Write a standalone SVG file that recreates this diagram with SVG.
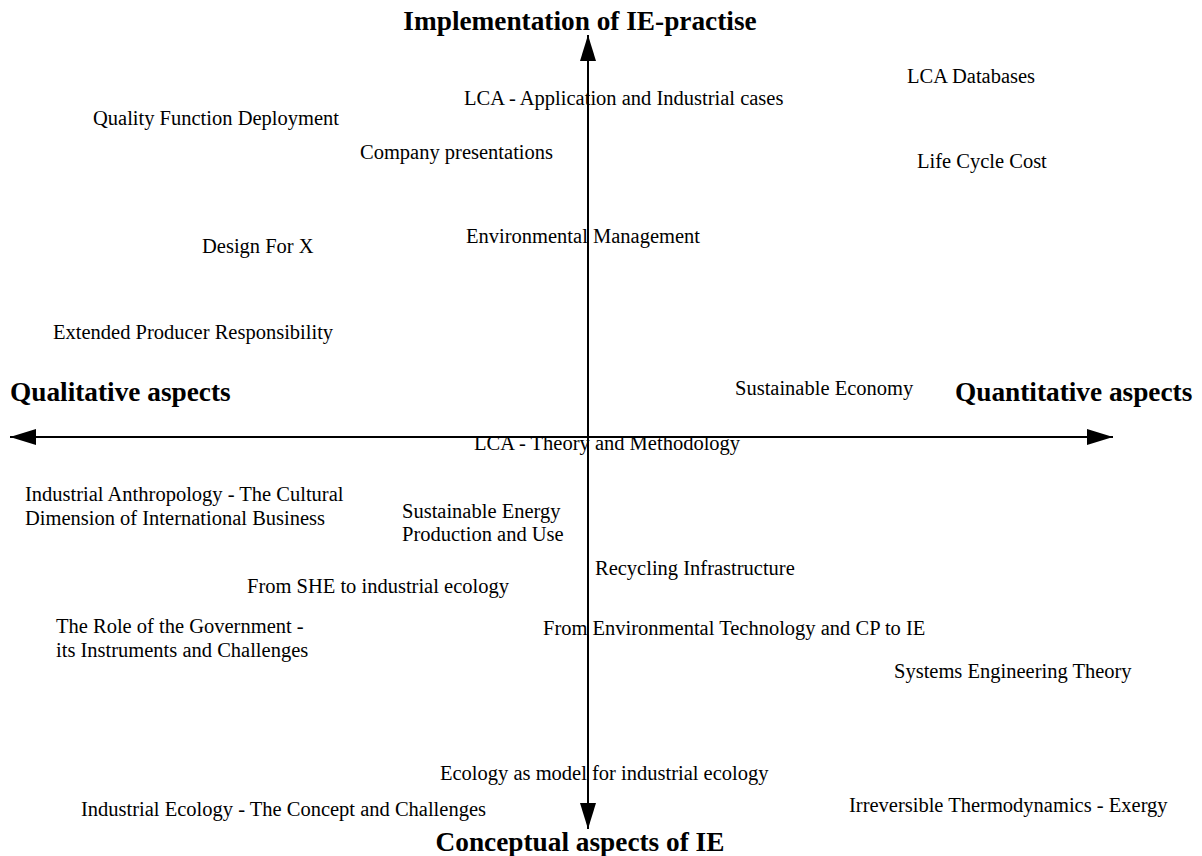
<svg xmlns="http://www.w3.org/2000/svg" width="1202" height="856" viewBox="0 0 1202 856">
  <style>
    .lbl { font-family: "Liberation Serif", "Times New Roman", serif; font-size: 20.5px; fill: #000; }
    .axt { font-family: "Liberation Serif", "Times New Roman", serif; font-size: 27.3px; font-weight: bold; fill: #000; }
    .axis { stroke: #000; stroke-width: 2; fill: none; }
  </style>
  <defs>
    <marker id="head" viewBox="0 0 26 16" refX="26" refY="8" markerWidth="26" markerHeight="16" markerUnits="userSpaceOnUse" orient="auto">
      <path d="M0,0 L26,8 L0,16 Z" fill="#000"/>
    </marker>
  </defs>
  <rect width="1202" height="856" fill="#fff"/>

  <!-- the two axes, drawn from the origin outwards -->
  <g id="connectors">
    <line class="axis" x1="588" y1="437" x2="588" y2="35" marker-end="url(#head)"/>
    <line class="axis" x1="588" y1="437" x2="588" y2="829" marker-end="url(#head)"/>
    <line class="axis" x1="588" y1="437" x2="10" y2="437" marker-end="url(#head)"/>
    <line class="axis" x1="588" y1="437" x2="1113" y2="437" marker-end="url(#head)"/>
  </g>

  <g id="axis-top"><text class="axt" x="580" y="30" text-anchor="middle">Implementation of IE-practise</text></g>
  <g id="axis-bottom"><text class="axt" x="580" y="851" text-anchor="middle">Conceptual aspects of IE</text></g>
  <g id="axis-left"><text class="axt" x="10" y="401">Qualitative aspects</text></g>
  <g id="axis-right"><text class="axt" x="955" y="401">Quantitative aspects</text></g>

  <g id="lca-databases"><text class="lbl" x="907" y="83">LCA Databases</text></g>
  <g id="lca-application"><text class="lbl" x="464" y="105">LCA - Application and Industrial cases</text></g>
  <g id="qfd"><text class="lbl" x="93" y="125">Quality Function Deployment</text></g>
  <g id="company-presentations"><text class="lbl" x="360" y="159">Company presentations</text></g>
  <g id="life-cycle-cost"><text class="lbl" x="917" y="168">Life Cycle Cost</text></g>
  <g id="environmental-management"><text class="lbl" x="466" y="243">Environmental Management</text></g>
  <g id="design-for-x"><text class="lbl" x="202" y="253">Design For X</text></g>
  <g id="epr"><text class="lbl" x="53" y="339">Extended Producer Responsibility</text></g>
  <g id="sustainable-economy"><text class="lbl" x="735" y="395">Sustainable Economy</text></g>
  <g id="lca-theory"><text class="lbl" x="474" y="450">LCA - Theory and Methodology</text></g>
  <g id="industrial-anthropology"><text class="lbl" x="25" y="501">Industrial Anthropology - The Cultural<tspan x="25" y="525">Dimension of International Business</tspan></text></g>
  <g id="sustainable-energy"><text class="lbl" x="402" y="518">Sustainable Energy<tspan x="402" y="541">Production and Use</tspan></text></g>
  <g id="recycling-infrastructure"><text class="lbl" x="595" y="575">Recycling Infrastructure</text></g>
  <g id="she-to-ie"><text class="lbl" x="247" y="593">From SHE to industrial ecology</text></g>
  <g id="role-of-government"><text class="lbl" x="56" y="633">The Role of the Government -<tspan x="56" y="657">its Instruments and Challenges</tspan></text></g>
  <g id="env-tech-cp"><text class="lbl" x="543" y="635">From Environmental Technology and CP to IE</text></g>
  <g id="systems-engineering"><text class="lbl" x="894" y="678">Systems Engineering Theory</text></g>
  <g id="ecology-model"><text class="lbl" x="440" y="780">Ecology as model for industrial ecology</text></g>
  <g id="ie-concept"><text class="lbl" x="81" y="816">Industrial Ecology - The Concept and Challenges</text></g>
  <g id="thermodynamics"><text class="lbl" x="849" y="812">Irreversible Thermodynamics - Exergy</text></g>
</svg>
